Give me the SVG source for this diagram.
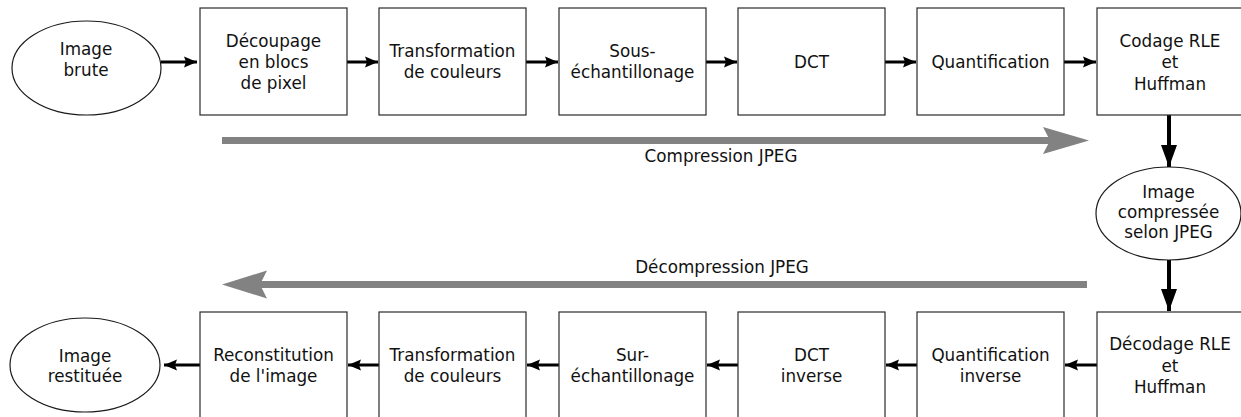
<svg xmlns="http://www.w3.org/2000/svg" width="1241" height="417" viewBox="0 0 1241 417">
<defs>
<style>
.box{fill:#fff;stroke:#2b2b2b;stroke-width:1.2}
.ell{fill:#fff;stroke:#1a1a1a;stroke-width:1.2}
text{font-family:"DejaVu Sans","Liberation Sans",sans-serif;font-size:16.8px;fill:#111;text-anchor:middle}
.h{stroke:#000;stroke-width:3;fill:none}
.v{stroke:#000;stroke-width:4;fill:none}
.g{stroke:#828282;stroke-width:7;fill:none}
</style>
<marker id="ah" markerUnits="userSpaceOnUse" markerWidth="14" markerHeight="12" refX="13" refY="6" orient="auto">
<path d="M0,0.5 L13,6 L0,11.5 L2,6 Z" fill="#000"/>
</marker>
<marker id="av" markerUnits="userSpaceOnUse" markerWidth="23" markerHeight="18" refX="22" refY="9" orient="auto">
<path d="M0,1 L22,9 L0,17 Z" fill="#000"/>
</marker>
<filter id="soft" x="-5%" y="-50%" width="110%" height="200%"><feGaussianBlur stdDeviation="0.6"/></filter>
</defs>

<g id="connectors">
<path class="h" d="M161,62 H197" marker-end="url(#ah)"/>
<path class="h" d="M347,62 H378" marker-end="url(#ah)"/>
<path class="h" d="M526,62 H558" marker-end="url(#ah)"/>
<path class="h" d="M706,62 H737" marker-end="url(#ah)"/>
<path class="h" d="M885,62 H916" marker-end="url(#ah)"/>
<path class="h" d="M1064,62 H1096" marker-end="url(#ah)"/>
<path class="v" d="M1169,115 V167" marker-end="url(#av)"/>
<path class="v" d="M1169,260 V311" marker-end="url(#av)"/>
<path class="h" d="M1097,365 H1065" marker-end="url(#ah)"/>
<path class="h" d="M917,365 H886" marker-end="url(#ah)"/>
<path class="h" d="M738,365 H707" marker-end="url(#ah)"/>
<path class="h" d="M559,365 H527" marker-end="url(#ah)"/>
<path class="h" d="M379,365 H348" marker-end="url(#ah)"/>
<path class="h" d="M200,365 H164" marker-end="url(#ah)"/>
</g>

<g id="compression" filter="url(#soft)">
<path class="g" d="M222,140.5 H1050"/>
<path d="M1043,127 L1089,140.5 L1043,154 L1050,140.5 Z" fill="#828282"/>
</g>
<text x="721" y="162">Compression JPEG</text>

<g id="decompression" filter="url(#soft)">
<path class="g" d="M260,284.5 H1087"/>
<path d="M267,270.5 L222,284.5 L267,298.5 L260,284.5 Z" fill="#828282"/>
</g>
<text x="722" y="273">Décompression JPEG</text>

<g id="n-image-brute">
<ellipse class="ell" cx="86.5" cy="68" rx="74.5" ry="47"/>
<text x="86" y="55">Image</text>
<text x="86" y="76">brute</text>
</g>
<g id="n-decoupage">
<rect class="box" x="200" y="8" width="147" height="107"/>
<text x="273.5" y="47">Découpage</text>
<text x="273.5" y="68">en blocs</text>
<text x="273.5" y="89">de pixel</text>
</g>
<g id="n-transfo">
<rect class="box" x="379" y="8" width="147" height="107"/>
<text x="452.5" y="57">Transformation</text>
<text x="452.5" y="78">de couleurs</text>
</g>
<g id="n-sous-ech">
<rect class="box" x="559" y="8" width="147" height="107"/>
<text x="632.5" y="57">Sous-</text>
<text x="632.5" y="78">échantillonage</text>
</g>
<g id="n-dct">
<rect class="box" x="738" y="8" width="147" height="107"/>
<text x="811.5" y="68">DCT</text>
</g>
<g id="n-quantif">
<rect class="box" x="917" y="8" width="147" height="107"/>
<text x="990.5" y="68">Quantification</text>
</g>
<g id="n-codage">
<rect class="box" x="1097" y="8" width="147" height="107"/>
<text x="1170" y="47">Codage RLE</text>
<text x="1170" y="68">et</text>
<text x="1170" y="90">Huffman</text>
</g>
<g id="n-image-compressee">
<ellipse class="ell" cx="1168.5" cy="213.5" rx="72.5" ry="46.5"/>
<text x="1168.5" y="198">Image</text>
<text x="1168.5" y="218">compressée</text>
<text x="1168.5" y="238">selon JPEG</text>
</g>
<g id="n-decodage">
<rect class="box" x="1097" y="312" width="147" height="110"/>
<text x="1170" y="350">Décodage RLE</text>
<text x="1170" y="372">et</text>
<text x="1170" y="393">Huffman</text>
</g>
<g id="n-quantif-inv">
<rect class="box" x="917" y="312" width="147" height="110"/>
<text x="990.5" y="361">Quantification</text>
<text x="990.5" y="382">inverse</text>
</g>
<g id="n-dct-inv">
<rect class="box" x="738" y="312" width="147" height="110"/>
<text x="811.5" y="361">DCT</text>
<text x="811.5" y="382">inverse</text>
</g>
<g id="n-sur-ech">
<rect class="box" x="559" y="312" width="147" height="110"/>
<text x="632.5" y="361">Sur-</text>
<text x="632.5" y="382">échantillonage</text>
</g>
<g id="n-transfo-inv">
<rect class="box" x="379" y="312" width="147" height="110"/>
<text x="452.5" y="361">Transformation</text>
<text x="452.5" y="382">de couleurs</text>
</g>
<g id="n-reconstitution">
<rect class="box" x="200" y="312" width="147" height="110"/>
<text x="273.5" y="361">Reconstitution</text>
<text x="273.5" y="382">de l'image</text>
</g>
<g id="n-image-restituee">
<ellipse class="ell" cx="85" cy="365" rx="75" ry="47"/>
<text x="85" y="362">Image</text>
<text x="85" y="382">restituée</text>
</g>
</svg>
